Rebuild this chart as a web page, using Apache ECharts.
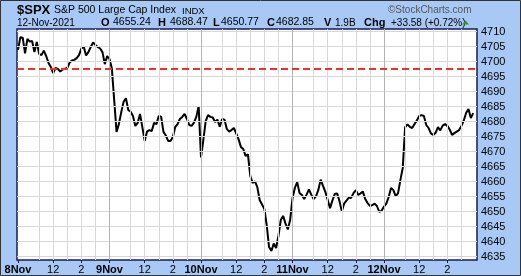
<!DOCTYPE html>
<html><head><meta charset="utf-8">
<script src="https://cdn.jsdelivr.net/npm/echarts@6/dist/echarts.min.js"></script>
<style>html,body{margin:0;padding:0;background:#a8c9f6;}#c{width:521px;height:276px;}</style>
</head><body><div id="c"></div>
<script>
// ---- data (10-minute closes) ----
const dayLabels = ['8Nov', '9Nov', '10Nov', '11Nov', '12Nov'];
const hourLabels = { 150: '12', 270: '2' };      // minutes after 9:30 open
const gridHours = [90, 150, 210, 270, 330];       // 11:00 .. 15:00
const yTicks = [4635, 4640, 4645, 4650, 4655, 4660, 4665, 4670, 4675, 4680, 4685, 4690, 4695, 4700, 4705, 4710];
const prevClose = 4697.53;
const barMinutes = 10;
const dayMinutes = 390;

const nov8 = [4703.9, 4708.2, 4708.0, 4702.8, 4707.6, 4706.7, 4706.9, 4703.2, 4706.6, 4702.6,
  4702.2, 4703.7, 4701.9, 4699.6, 4698.2, 4696.2, 4697.9, 4697.6, 4696.7, 4697.4,
  4697.7, 4697.9, 4699.7, 4700.4, 4700.6, 4701.2, 4702.2, 4704.4, 4705.1, 4702.1,
  4703.2, 4704.9, 4706.4, 4705.6, 4704.9, 4704.4, 4703.2, 4699.2, 4701.9];
const nov9 = [4700.9, 4697.7, 4687.2, 4676.6, 4679.2, 4683.2, 4686.6, 4687.8, 4683.9, 4683.3,
  4681.9, 4678.6, 4679.6, 4682.6, 4678.2, 4673.6, 4676.7, 4677.2, 4676.9, 4679.6,
  4679.2, 4681.9, 4681.7, 4676.6, 4675.4, 4673.6, 4673.6, 4674.9, 4678.2, 4679.2,
  4680.9, 4681.6, 4682.6, 4680.9, 4678.9, 4678.6, 4679.7, 4681.6, 4685.2];
const nov10 = [4668.1, 4673.9, 4680.2, 4682.2, 4681.6, 4681.4, 4679.9, 4680.7, 4678.3, 4680.9,
  4680.7, 4677.6, 4676.7, 4677.2, 4677.9, 4676.1, 4674.2, 4671.6, 4670.9, 4668.6,
  4669.1, 4661.9, 4659.6, 4660.1, 4658.2, 4653.9, 4652.4, 4650.9, 4645.6, 4638.2,
  4636.9, 4639.4, 4637.9, 4641.9, 4647.2, 4648.6, 4646.1, 4644.1, 4647.2];
const nov11 = [4654.5, 4657.9, 4659.9, 4656.2, 4655.6, 4654.2, 4655.7, 4657.4, 4655.7, 4654.2,
  4655.1, 4657.2, 4660.7, 4658.6, 4656.6, 4653.9, 4651.2, 4653.7, 4655.9, 4656.1,
  4653.6, 4650.1, 4652.7, 4653.7, 4654.7, 4654.6, 4656.2, 4657.2, 4655.6, 4656.1,
  4656.7, 4654.2, 4652.9, 4651.9, 4652.2, 4652.7, 4651.9, 4649.9, 4650.4];
const nov12 = [4651.7, 4652.7, 4654.9, 4657.9, 4657.2, 4655.1, 4656.2, 4660.6, 4664.6, 4678.2,
  4679.1, 4678.3, 4677.9, 4679.2, 4680.4, 4681.9, 4682.2, 4681.9, 4678.9, 4677.9,
  4676.1, 4675.6, 4676.3, 4678.2, 4677.1, 4678.7, 4679.2, 4678.6, 4677.4, 4675.6,
  4676.2, 4676.7, 4677.2, 4678.6, 4680.4, 4682.9, 4684.2, 4681.2, 4682.85];

// ---- build ----
const days = [nov8, nov9, nov10, nov11, nov12];
const data = [];
days.forEach((arr, d) => arr.forEach((v, j) => data.push([d * dayMinutes + j * barMinutes, v])));

const xLabelValues = [];
const vGrid = [];
const dayLines = [];
days.forEach((_, d) => {
  xLabelValues.push(d * dayMinutes, d * dayMinutes + 150, d * dayMinutes + 270);
  dayLines.push(d * dayMinutes);
  gridHours.forEach(h => vGrid.push(d * dayMinutes + h));
});

const FONT = '"Liberation Sans", Arial, sans-serif';
const chart = echarts.init(document.getElementById('c'), null, { renderer: 'canvas' });

function txt(x, y, text, size, bold, color) {
  return {
    type: 'text', x: x, y: y, silent: true,
    style: { text: text, font: (bold ? 'bold ' : '') + size + 'px ' + FONT, fill: color || '#000', verticalAlign: 'bottom', align: 'left' }
  };
}

chart.setOption({
  animation: false,
  backgroundColor: '#a8c9f6',
  grid: { left: 17, top: 29, width: 460, height: 231, show: true, backgroundColor: '#ffffff', borderColor: '#1a1a50', borderWidth: 1.5, containLabel: false },
  xAxis: {
    type: 'value', min: -4.3, max: 1956.4,
    axisLine: { show: false },
    splitLine: { show: false },
    axisTick: { show: true, customValues: xLabelValues, length: 3, lineStyle: { color: '#1a1a50' } },
    axisLabel: {
      customValues: xLabelValues, margin: 4, fontSize: 11, fontFamily: FONT, color: '#000',
      formatter: function (val) {
        const d = Math.floor(val / dayMinutes + 1e-6);
        const m = Math.round(val - d * dayMinutes);
        if (m === 0) return '{b|' + dayLabels[d] + '}';
        return hourLabels[m];
      },
      rich: { b: { fontWeight: 'bold', fontSize: 11, fontFamily: FONT, color: '#000' } }
    }
  },
  yAxis: {
    type: 'value', position: 'right', min: 4633.9, max: 4710.9,
    axisLine: { show: false },
    splitLine: { show: false },
    axisTick: { show: true, customValues: yTicks, length: 3, lineStyle: { color: '#000' } },
    axisLabel: { customValues: yTicks, margin: 4, fontSize: 11, fontFamily: FONT, color: '#000',
      formatter: function (v) { return String(Math.round(v)); } }
  },
  series: [
    {
      type: 'line', data: [], z: 1, silent: true,
      markLine: {
        silent: true, symbol: 'none', label: { show: false }, animation: false,
        lineStyle: { color: '#d8d8d8', width: 1, type: 'solid' },
        data: yTicks.map(v => ({ yAxis: v }))
          .concat(vGrid.map(v => ({ xAxis: v })))
          .concat(dayLines.slice(1).map(v => ({ xAxis: v, lineStyle: { color: '#b4b4b4', width: 1, type: 'solid' } })))
      }
    },
    {
      type: 'line', data: data, z: 3, showSymbol: false, symbol: 'none',
      lineStyle: { color: '#000', width: 2 },
      markLine: {
        silent: true, symbol: 'none', label: { show: false }, animation: false,
        lineStyle: { color: '#ee3030', width: 2, type: [7, 4] },
        data: [{ yAxis: prevClose }]
      }
    }
  ],
  graphic: [
    { type: 'rect', silent: true, shape: { x: 0.5, y: 0.5, width: 520, height: 275 }, style: { fill: 'none', stroke: '#333', lineWidth: 1 } },
    txt(17, 17, '$SPX', 13, true),
    txt(54, 16, 'S&P 500 Large Cap Index', 10.5, false),
    txt(182, 16, 'INDX', 9.5, false),
    txt(17, 28, '12-Nov-2021', 10, false),
    txt(101, 28, 'O', 11, true), txt(113, 28, '4655.24', 10.5, false),
    txt(158, 28, 'H', 11, true), txt(170, 28, '4688.47', 10.5, false),
    txt(213, 28, 'L', 11, true), txt(221, 28, '4650.77', 10.5, false),
    txt(267, 28, 'C', 11, true), txt(276, 28, '4682.85', 10.5, false),
    txt(324, 28, 'V', 11, true), txt(335, 28, '1.9B', 10, false),
    txt(364, 28, 'Chg', 11, true), txt(391, 28, '+33.58 (+0.72%)', 10, false),
    { type: 'polygon', silent: true, shape: { points: [[462, 24.5], [469, 24.5], [465.5, 20.5]] }, style: { fill: '#2a9a2a' } },
    txt(388, 15, '\u00a9StockCharts.com', 10, false, '#555')
  ]
});
</script>
</body></html>
